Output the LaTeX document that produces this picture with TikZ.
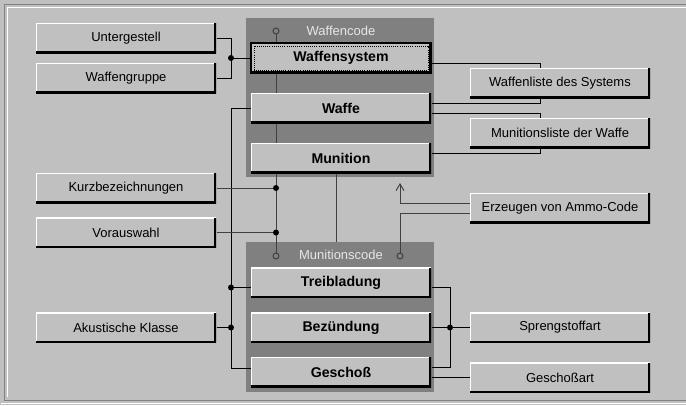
\documentclass[tikz,border=0pt]{standalone}
\usepackage{fontspec}
\setmainfont{Liberation Sans}
\usetikzlibrary{arrows.meta,calc}
\definecolor{flaeche}{RGB}{192,192,192}
\definecolor{tafelgrau}{RGB}{128,128,128}
\definecolor{linie}{RGB}{64,64,64}
\definecolor{titel}{RGB}{230,230,230}

\begin{document}
\begin{tikzpicture}[x=0.75pt,y=0.75pt,yscale=-1,xscale=1,line width=0.75pt,
  knopf/.style={minimum width=135pt,minimum height=22.5pt,inner sep=0pt,fill=flaeche,
    font=\fontsize{9.75}{11}\selectfont,
    path picture={
      \draw[white,line width=1.5pt] (path picture bounding box.south west) -- (path picture bounding box.north west) -- (path picture bounding box.north east);
      \draw[black,line width=3pt] (path picture bounding box.north east) -- (path picture bounding box.south east) -- (path picture bounding box.south west);
    }},
  fett/.style={knopf,font=\fontsize{10.6}{12}\selectfont\bfseries},
  tafel/.style={fill=tafelgrau,inner sep=0pt,minimum width=141pt},
  titeltext/.style={text=titel,inner sep=0pt,font=\fontsize{9.75}{11}\selectfont},
  punkt/.style={fill=black},
  hohlpunkt/.style={fill=tafelgrau,draw=linie}
]

% hintergrund
\fill[flaeche] (0,0) rectangle (686,405);
\useasboundingbox (0,0) rectangle (686,405);
\draw[tafelgrau] (690,4) -- (4,4) -- (4,400) -- (690,400);
\draw[white] (690,7) -- (7,7) -- (7,397);
\draw[white] (1,403) -- (690,403);

% begin part
\node[tafel,minimum height=119.25pt] (wcode) at (340,97.5) {};
\node[tafel,minimum height=112.5pt] (mcode) at (340,317) {};
\node[titeltext] (wtitel) at (341,31) {Waffencode};
\node[titeltext] (mtitel) at (341,255) {Munitionscode};

\coordinate (wpunkt) at (276,31);
\coordinate (mpunkt) at (276,256);
\coordinate (apunkt) at (400,256);
\coordinate (pfeil) at (400,183);
\coordinate (lbus) at (231,0);
\coordinate (mbus) at (276,0);
\coordinate (rbusA) at (540,0);
\coordinate (rbusB) at (450,0);

\draw[linie] (wpunkt) -- (mpunkt);

\node[fett,draw=black,line width=1.5pt] (wsys) at (341,58) {Waffensystem};
\draw[densely dotted,line width=0.6pt] ([shift={(4,4)}]wsys.north west) rectangle ([shift={(-4,-4)}]wsys.south east);
\node[fett] (waffe) at (341,108) {Waffe};
\node[fett] (munition) at (341,158) {Munition};
\node[fett] (treib) at (341,282.5) {Treibladung};
\node[fett] (bez) at (341,327.5) {Bezündung};
\node[fett] (geschoss) at (341,372) {Geschoß};

\node[knopf] (unterg) at (126,38) {Untergestell};
\node[knopf] (wgruppe) at (126,78) {Waffengruppe};
\node[knopf] (kurz) at (126,188) {Kurzbezeichnungen};
\node[knopf] (vorausw) at (126,232.5) {Vorauswahl};
\node[knopf] (akust) at (126,327.5) {Akustische Klasse};

\node[knopf] (wliste) at (560,83) {Waffenliste des Systems};
\node[knopf] (mliste) at (560,133) {Munitionsliste der Waffe};
\node[knopf] (erzeug) at (560,208) {Erzeugen von Ammo-Code};
\node[knopf] (spreng) at (560,327.5) {Sprengstoffart};
\node[knopf] (gart) at (560,377.5) {Geschoßart};

% links
\draw (unterg.east) -| (lbus |- wgruppe.east) -- (wgruppe.east);
\draw (lbus |- wsys.west) -- (wsys.west);
\draw (waffe.west) -| ($(lbus |- geschoss.west)+(0,-4)$) -- ($(geschoss.west)+(0,-4)$);
\draw ($(treib.west)+(0,5)$) -- ($(lbus |- treib.west)+(0,5)$);
\draw (akust.east) -- (lbus |- akust.east);
\draw[linie] (kurz.east) -- (mbus |- kurz.east);
\draw[linie] (vorausw.east) -- (mbus |- vorausw.east);
\draw[linie] ($(munition.south)+(-5,0)$) -- ($(munition.south |- mcode.north)+(-5,0)$);

% rechts
\draw ($(wsys.east)+(0,5)$) -| (rbusA |- wliste.north);
\draw ($(waffe.east)+(0,-5)$) -| (rbusA |- wliste.south);
\draw ($(waffe.east)+(0,5)$) -| (rbusA |- mliste.north);
\draw ($(munition.east)+(0,-5)$) -| (rbusA |- mliste.south);
\draw ($(treib.east)+(0,5)$) -| ($(rbusB |- geschoss.east)+(0,-5)$) -- ($(geschoss.east)+(0,-5)$);
\draw (bez.east) -- (spreng.west);
\draw (gart.west -| geschoss.east) -- (gart.west);
\draw[linie,-{Straight Barb[length=5pt,width=6pt]}] ($(erzeug.west)+(0,-5)$) -| (pfeil);
\draw[linie] ($(erzeug.west)+(0,5)$) -| (apunkt);

% punkte
\fill[punkt] (lbus |- wsys.west) circle (3);
\fill[punkt] ($(lbus |- treib.west)+(0,5)$) circle (3);
\fill[punkt] (lbus |- akust.east) circle (3);
\fill[punkt] (mbus |- kurz.east) circle (3);
\fill[punkt] (mbus |- vorausw.east) circle (3);
\fill[punkt] (rbusB |- bez.east) circle (3);
\filldraw[hohlpunkt] (wpunkt) circle (3);
\filldraw[hohlpunkt] (mpunkt) circle (3);
\filldraw[hohlpunkt] (apunkt) circle (3);
\end{tikzpicture}
\end{document}
